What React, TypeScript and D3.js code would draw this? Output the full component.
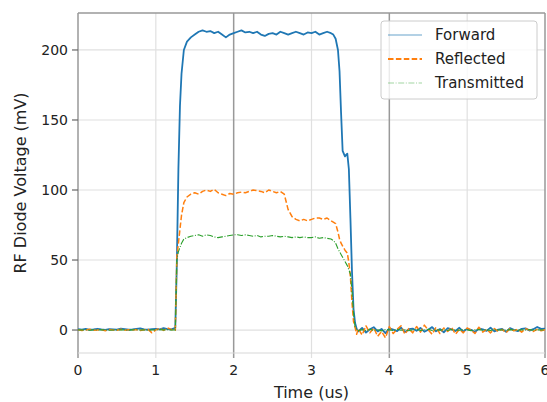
import React from 'react';
import * as d3 from 'd3';

// time axis in microseconds
const time = [
  0.0, 0.05, 0.1, 0.15, 0.2, 0.25, 0.3, 0.35, 0.4, 0.45, 0.5, 0.55, 0.6, 0.65, 0.7, 0.75, 0.8, 0.85, 0.9, 0.95, 1.0, 1.05, 1.1, 1.15, 1.2, 1.25,
  1.27, 1.29, 1.31, 1.33, 1.36, 1.4, 1.45,
  1.5, 1.55, 1.6, 1.65, 1.7, 1.75, 1.8, 1.85, 1.9, 1.95, 2.0, 2.05, 2.1, 2.15, 2.2, 2.25, 2.3, 2.35, 2.4, 2.45, 2.5, 2.55, 2.6, 2.65, 2.7, 2.75, 2.8, 2.85, 2.9, 2.95, 3.0, 3.05, 3.1, 3.15, 3.2, 3.25,
  3.28, 3.31, 3.34, 3.36, 3.38, 3.4, 3.43, 3.46, 3.48, 3.5, 3.52, 3.54, 3.56, 3.58, 3.6,
  3.65, 3.7, 3.75, 3.8, 3.85, 3.9, 3.95, 4.0, 4.05, 4.1, 4.15, 4.2, 4.25, 4.3, 4.35, 4.4, 4.45, 4.5, 4.55, 4.6, 4.65, 4.7, 4.75, 4.8, 4.85, 4.9, 4.95, 5.0, 5.05, 5.1, 5.15, 5.2, 5.25, 5.3, 5.35, 5.4, 5.45, 5.5, 5.55, 5.6, 5.65, 5.7, 5.75, 5.8, 5.85, 5.9, 5.95, 6.0,
];

const forward = [
  0.6, 0.3, 0.8, 0.2, 0.5, 0.9, 0.4, 0.1, 0.7, 0.5, 0.3, 1.0, 0.6, 0.2, 0.4, 0.8, 1.2, 0.5, 0.3, 0.6, 0.9, 0.4, 1.3, 0.7, 0.5, 1.5,
  48, 115, 160, 183, 200, 206, 209,
  211, 213, 214, 213, 213.5, 212, 213, 211, 209, 211, 212, 213, 214, 212.5, 213, 212, 213, 211, 210, 211.5, 212, 211, 213, 212, 211, 212, 213, 212, 211, 212.5, 212, 213, 211, 212, 213, 212,
  211, 208, 200, 185, 155, 128, 124, 126, 115, 80, 42, 15, 5, 1, -1,
  1.5, -1.8, 0.5, 2.0, -1.0, 0.8, -2.2, 1.2, 0.3, -0.8, 1.8, -1.5, 0.6, 1.0, -0.5, 1.5, -1.2, 0.2, 2.1, -0.9, 0.7, -1.6, 1.3, 0.4, -0.7, 1.6, -1.1, 0.9, 0.2, -1.4, 1.1, 0.5, -0.6, 1.7, -1.0, 0.3, 0.8, -1.3, 1.4, 0.1, -0.8, 0.9, 1.2, -0.4, 0.6, 2.2, 0.8, 1.0,
];

const reflected = [
  0.2, -0.3, 0.1, 0.5, -0.2, 0.0, 0.3, -0.5, 0.4, 0.1, -0.2, 0.6, -0.1, 0.2, 0.0, 0.3, -0.4, 0.2, 0.5, -2.0, 0.1, 1.2, -0.3, 1.5, 0.4, -0.2,
  52, 62, 72, 82, 91, 95, 97,
  98, 97, 99, 100, 99, 100.5, 98, 97, 96, 97.5, 97, 98, 98.5, 98, 99, 100, 99.5, 99, 98, 100, 99, 98, 99, 97, 86, 81, 79, 78, 79, 78, 79, 80, 80, 79, 80, 78,
  77, 76, 70, 65, 62, 60, 57, 55, 48, 38, 20, 6, 2, -3, 1,
  -3.5, 3.0, -2.0, 1.5, -4.5, -1.0, -5.5, 2.5, -2.5, 0.5, 3.0, -3.0, 1.0, -2.0, 2.5, -1.5, 3.5, 0.0, -3.0, 2.0, -2.5, 1.5, -1.0, 2.0, -3.0, 0.5, -2.0, 1.5, 0.0, -2.5, 2.0, -1.5, 0.5, -2.0, 1.0, -1.0, 0.5, -2.0, 1.0, -0.5, 0.5, -1.5, 1.0, 0.0, -1.0, 0.5, -0.5, 0.2,
];

const transmitted = [
  0.1, 0.0, 0.2, -0.1, 0.1, 0.0, 0.2, 0.1, -0.1, 0.0, 0.1, 0.2, 0.0, -0.1, 0.1, 0.2, 0.0, 0.1, -0.2, 0.1, 0.0, 0.3, 0.1, 0.2, 0.0, 0.1,
  50, 56, 59, 62, 65, 66, 67,
  67.5, 68, 67, 68, 67.5, 66.5, 66, 66.5, 67, 67.5, 68, 68, 67.5, 68, 67.5, 67, 67.5, 66.5, 67, 67, 67.5, 67, 66.5, 67, 66.5, 66, 66.5, 66, 66.5, 66, 66, 66.5, 65.5, 66, 65.5, 65,
  64, 62, 58, 56, 54, 52, 49, 46, 43, 40, 28, 12, 2, 0.5, -0.5,
  0.3, -0.5, 0.6, -0.3, 0.2, -0.6, 0.4, 0.1, -0.4, 0.5, -0.2, 0.3, -0.5, 0.2, 0.4, -0.3, 0.1, 0.5, -0.4, 0.2, -0.1, 0.3, -0.3, 0.4, 0.0, -0.2, 0.3, 0.1, -0.4, 0.2, 0.3, -0.1, 0.2, -0.3, 0.4, 0.0, 0.1, -0.2, 0.3, 0.1, -0.1, 0.2, 0.0, 0.3, -0.2, 0.1, 0.2, 0.0,
];

const xTicks = [0, 1, 2, 3, 4, 5, 6];
const yTicks = [0, 50, 100, 150, 200];

const series = [
  { name: 'Forward', values: forward, color: '#1f77b4', width: 1.8, dash: null, legendOpacity: 0.45, legendWidth: 1.5 },
  { name: 'Reflected', values: reflected, color: '#ff7f0e', width: 1.5, dash: '5.5,2.4', legendOpacity: 1, legendWidth: 1.8 },
  { name: 'Transmitted', values: transmitted, color: '#2ca02c', width: 1.1, dash: '6,1.6,1,1.6', legendOpacity: 0.45, legendWidth: 1.2 },
];

const W = 547;
const H = 402;
const margin = { top: 13, right: 2, bottom: 49, left: 78 };
const FONT = 'DejaVu Sans, sans-serif';

export default function App() {
  const x = d3.scaleLinear().domain([0, 6]).range([margin.left, W - margin.right]);
  const y = d3.scaleLinear().domain([-16.4, 226.4]).range([H - margin.bottom, margin.top]);
  const x0 = margin.left;
  const x1 = W - margin.right;
  const y0 = margin.top;
  const y1 = H - margin.bottom;

  const line = (vals: number[]) =>
    d3.line<number>()
      .x((_, i) => x(time[i]))
      .y((d) => y(d))(vals) || '';

  const lx = 381;
  const ly = 21;

  return (
    <svg width={W} height={H} style={{ position: 'absolute', left: 0, top: 0, background: '#fff' }} fontFamily={FONT}>
      <defs>
        <clipPath id="plot">
          <rect x={x0} y={y0} width={x1 - x0} height={y1 - y0} />
        </clipPath>
      </defs>

      {/* horizontal grid */}
      {yTicks.map((t) => (
        <line key={'hg' + t} x1={x0} x2={x1} y1={y(t)} y2={y(t)} stroke="#e0e0e0" strokeWidth={1.2} />
      ))}
      {/* vertical grid, even ticks darker */}
      {xTicks.map((t) => (
        <line key={'vg' + t} x1={x(t)} x2={x(t)} y1={y0} y2={y1 + 5}
          stroke={t % 2 === 0 ? '#999' : '#e0e0e0'} strokeWidth={t % 2 === 0 ? 1.5 : 1.2} />
      ))}
      {/* frame */}
      <line x1={x0} x2={x1} y1={y1} y2={y1} stroke="#d8d8d8" strokeWidth={1.2} />
      <line x1={x0} x2={x1} y1={y0} y2={y0} stroke="#999" strokeWidth={1.5} />

      {/* y ticks */}
      {yTicks.map((t) => (
        <g key={'yt' + t}>
          <line x1={x0 - 6} x2={x0} y1={y(t)} y2={y(t)} stroke="#666" strokeWidth={1.2} />
          <text x={x0 - 10} y={y(t)} dy="0.35em" textAnchor="end" fontSize={14} fill="#222">{t}</text>
        </g>
      ))}
      {xTicks.map((t) => (
        <text key={'xt' + t} x={x(t)} y={y1 + 22} textAnchor="middle" fontSize={14} fill="#222">{t}</text>
      ))}

      <g clipPath="url(#plot)">
        {series.map((s) => (
          <path key={s.name} d={line(s.values)} fill="none" stroke={s.color} strokeWidth={s.width}
            strokeDasharray={s.dash || undefined} strokeLinejoin="round" />
        ))}
      </g>

      {/* legend */}
      <rect x={lx} y={ly} width={156} height={78} rx={3} fill="#fff" fillOpacity={0.8} stroke="#ccc" strokeWidth={1} />
      {series.map((s, i) => (
        <g key={'lg' + s.name}>
          <line x1={lx + 7} x2={lx + 41} y1={ly + 14 + i * 24} y2={ly + 14 + i * 24} stroke={s.color}
            strokeOpacity={s.legendOpacity} strokeWidth={s.legendWidth} strokeDasharray={s.dash || undefined} />
          <text x={lx + 54} y={ly + 14 + i * 24} dy="0.35em" fontSize={15} fill="#222">{s.name}</text>
        </g>
      ))}

      <text x={(x0 + x1) / 2} y={H - 4} textAnchor="middle" fontSize={16} fill="#222">Time (us)</text>
      <text transform={`translate(20,${(y0 + y1) / 2}) rotate(-90)`} dy="0.35em" textAnchor="middle" fontSize={16} fill="#222">RF Diode Voltage (mV)</text>
    </svg>
  );
}
